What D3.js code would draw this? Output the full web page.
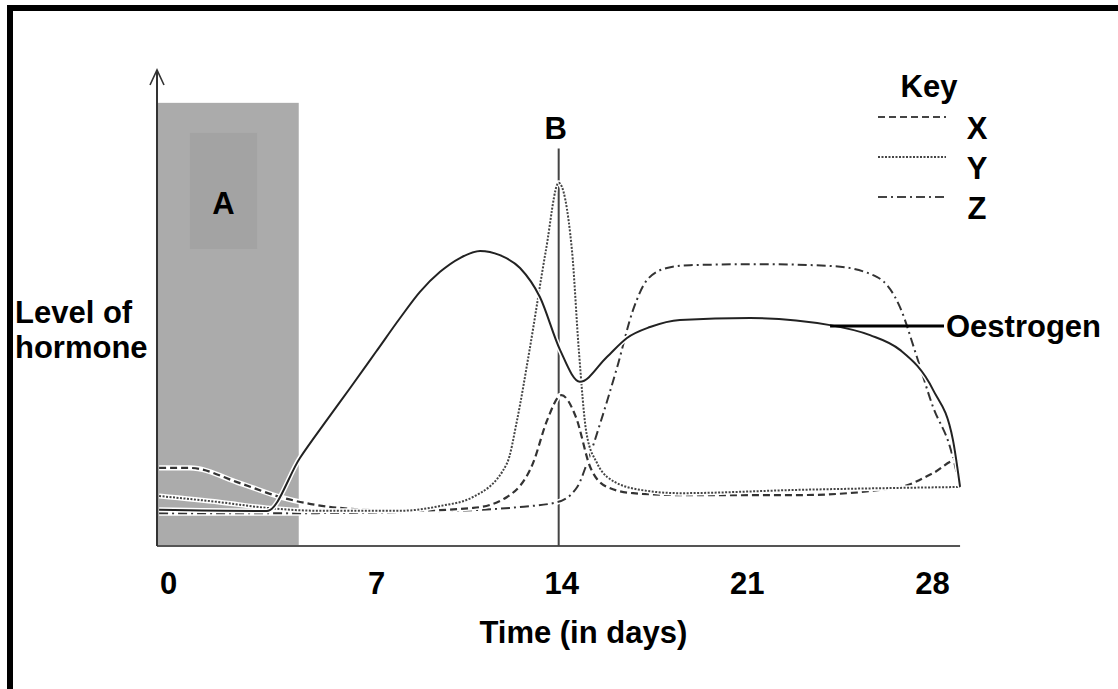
<!DOCTYPE html>
<html>
<head>
<meta charset="utf-8">
<script src="https://cdn.jsdelivr.net/npm/d3@7"></script>
<style>
  body { margin: 0; background: #fff; }
  text { font-family: "Liberation Sans", Arial, sans-serif; font-weight: bold; fill: #000; }
</style>
</head>
<body>
<div id="chart"></div>
<script>
const width = 1118;
const height = 689;
const fontSize = 31;

// x in days, y in arbitrary hormone level (0-100)
const tickDays = [0, 7, 14, 21, 28];

const oestrogenDays   = [-0.3, 3.33, 4.44, 5.35, 6.13, 7.0, 7.91, 8.66, 9.42, 10.17, 10.93, 11.68, 12.44, 13.19, 13.95, 14.7, 15.72, 16.48, 17.35, 18.48, 21.13, 24.15, 25.66, 26.79, 28.04, 28.79, 29.06];
const oestrogenLevels = [7.6, 7.35, 18.5, 26.5, 33.2, 40.8, 47.9, 53.4, 57.6, 60.5, 62.0, 61.1, 58.4, 52.3, 41.2, 34.5, 39.7, 43.7, 46.0, 47.5, 47.9, 46.4, 44.3, 41.2, 32.8, 22.3, 12.4];

const xDays   = [-0.3, 0.74, 2.42, 3.77, 5.79, 8.17, 10.67, 11.95, 12.93, 13.47, 14.0, 14.55, 15.09, 15.73, 16.71, 18.48, 23.0, 26.79, 28.04, 28.94, 29.06];
const xLevels = [16.4, 16.4, 13.2, 10.3, 8.0, 7.4, 8.0, 10.3, 17.4, 26.5, 31.7, 27.1, 16.6, 12.4, 11.1, 10.7, 10.7, 12.4, 15.3, 18.1, 12.4];

const yDays   = [-0.3, 1.75, 3.33, 5.12, 7.91, 9.42, 10.67, 11.95, 12.33, 12.8, 13.42, 13.9, 14.4, 14.66, 14.95, 15.35, 15.73, 16.97, 18.48, 23.0, 29.06];
const yLevels = [10.5, 9.2, 8.0, 7.4, 7.4, 8.4, 10.3, 17.4, 26.5, 41.2, 62.2, 76.3, 62.2, 41.2, 23.7, 17.4, 14.5, 11.8, 11.1, 11.8, 12.4];

const zDays   = [-0.3, 4.44, 9.94, 12.44, 13.84, 14.6, 14.97, 15.47, 16.11, 16.71, 17.24, 17.99, 18.86, 21.5, 24.27, 25.93, 26.79, 27.43, 28.04, 28.68, 29.06];
const zLevels = [6.9, 6.9, 7.4, 8.2, 9.2, 12.4, 17.4, 25.8, 37.6, 49.6, 55.9, 58.4, 59.0, 59.2, 58.8, 56.5, 50.2, 39.7, 29.2, 20.8, 12.4];

// shaded period A and its inner box
const shadeDays = [-0.37, 4.4];
const shadeLevels = [0, 93.1];
const innerDays = [0.74, 3.0];
const innerLevels = [62.4, 86.8];

const ovulationDay = 13.9;
const ovulationTop = 83.5;

const keyNames = ["X", "Y", "Z"];
const keyDash = ["7,4", "2,1.5", "9,4,2,4"];

const svg = d3.select("#chart")
  .append("svg")
  .attr("width", width)
  .attr("height", height);

// frame (only top and left visible)
svg.append("line").attr("x1", 7).attr("x2", width).attr("y1", 8).attr("y2", 8)
  .attr("stroke", "#000").attr("stroke-width", 6);
svg.append("line").attr("x1", 10).attr("x2", 10).attr("y1", 5).attr("y2", height)
  .attr("stroke", "#000").attr("stroke-width", 6);

const x = d3.scaleLinear().domain([0, 7, 28]).range([168, 376, 932]);
const y = d3.scaleLinear().domain([0, 100]).range([546, 70]);
const xMin = -0.37;

// shaded region A
svg.append("rect")
  .attr("x", x(shadeDays[0]))
  .attr("y", y(shadeLevels[1]))
  .attr("width", x(shadeDays[1]) - x(shadeDays[0]))
  .attr("height", y(shadeLevels[0]) - y(shadeLevels[1]))
  .attr("fill", "#ababab");
svg.append("rect")
  .attr("x", x(innerDays[0]))
  .attr("y", y(innerLevels[1]))
  .attr("width", x(innerDays[1]) - x(innerDays[0]))
  .attr("height", y(innerLevels[0]) - y(innerLevels[1]))
  .attr("fill", "#a3a3a3");
svg.append("text")
  .attr("x", x((innerDays[0] + innerDays[1]) / 2))
  .attr("y", y(innerLevels[0]) - 35)
  .attr("text-anchor", "middle")
  .attr("font-size", fontSize)
  .text("A");

// axes
svg.append("line")
  .attr("x1", x(xMin)).attr("x2", x(29.06))
  .attr("y1", y(0)).attr("y2", y(0))
  .attr("stroke", "#555").attr("stroke-width", 2);
svg.append("line")
  .attr("x1", x(xMin)).attr("x2", x(xMin))
  .attr("y1", y(0)).attr("y2", y(100))
  .attr("stroke", "#333").attr("stroke-width", 2);
svg.append("path")
  .attr("d", `M${x(xMin) - 7},${y(100) + 15}L${x(xMin)},${y(100)}L${x(xMin) + 7},${y(100) + 15}`)
  .attr("fill", "none").attr("stroke", "#333").attr("stroke-width", 1.6);

const xAxis = svg.append("g")
  .attr("transform", `translate(0,${y(0)})`)
  .call(d3.axisBottom(x).tickValues(tickDays).tickSize(0).tickPadding(26).tickFormat(d3.format("d")));
xAxis.select(".domain").remove();
xAxis.selectAll("text")
  .attr("font-size", fontSize)
  .attr("font-family", "Liberation Sans, Arial, sans-serif")
  .attr("font-weight", "bold")
  .attr("fill", "#000");

svg.append("text")
  .attr("x", x(14) + 22)
  .attr("y", 643)
  .attr("text-anchor", "middle")
  .attr("font-size", fontSize)
  .text("Time (in days)");

svg.append("text").attr("x", 15).attr("y", 323).attr("font-size", fontSize).text("Level of");
svg.append("text").attr("x", 15).attr("y", 358).attr("font-size", fontSize).text("hormone");

// ovulation line B
svg.append("line")
  .attr("x1", x(ovulationDay)).attr("x2", x(ovulationDay))
  .attr("y1", y(0)).attr("y2", y(ovulationTop))
  .attr("stroke", "#444").attr("stroke-width", 2);
svg.append("text")
  .attr("x", x(ovulationDay) - 3)
  .attr("y", y(ovulationTop) - 10)
  .attr("text-anchor", "middle")
  .attr("font-size", fontSize)
  .text("B");

// curves
const line = d3.line()
  .x(d => x(d[0]))
  .y(d => y(d[1]))
  .curve(d3.curveMonotoneX);

function drawCurve(days, levels, dash, width, color) {
  const pts = d3.zip(days, levels);
  svg.append("path")
    .attr("d", line(pts))
    .attr("fill", "none")
    .attr("stroke", "#fff")
    .attr("stroke-width", width + 3)
    .attr("stroke-linejoin", "round");
  svg.append("path")
    .attr("d", line(pts))
    .attr("fill", "none")
    .attr("stroke", color)
    .attr("stroke-width", width)
    .attr("stroke-dasharray", dash);
}

drawCurve(zDays, zLevels, keyDash[2], 2, "#333");
drawCurve(xDays, xLevels, keyDash[0], 2.2, "#333");
drawCurve(yDays, yLevels, keyDash[1], 2, "#444");
drawCurve(oestrogenDays, oestrogenLevels, null, 2, "#222");

// oestrogen label
svg.append("line")
  .attr("x1", x(24.15)).attr("x2", 944)
  .attr("y1", y(46.2)).attr("y2", y(46.2))
  .attr("stroke", "#000").attr("stroke-width", 3);
svg.append("text")
  .attr("x", 946)
  .attr("y", y(46.2) + 11)
  .attr("font-size", fontSize)
  .text("Oestrogen");

// key
svg.append("text")
  .attr("x", 929).attr("y", 97)
  .attr("text-anchor", "middle")
  .attr("font-size", fontSize)
  .text("Key");

const key = svg.selectAll(".key")
  .data(keyNames)
  .enter()
  .append("g")
  .attr("class", "key")
  .attr("transform", (d, i) => `translate(0,${117 + i * 40})`);
key.append("line")
  .attr("x1", 878).attr("x2", 946)
  .attr("y1", 0).attr("y2", 0)
  .attr("stroke", "#444")
  .attr("stroke-width", 2)
  .attr("stroke-dasharray", (d, i) => keyDash[i]);
key.append("text")
  .attr("x", 977).attr("y", 22)
  .attr("text-anchor", "middle")
  .attr("font-size", fontSize)
  .text(d => d);
</script>
</body>
</html>
